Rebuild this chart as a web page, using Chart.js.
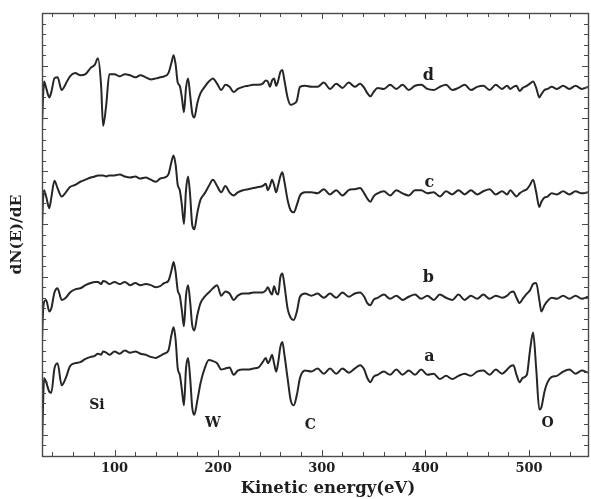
<!DOCTYPE html>
<html>
<head>
<meta charset="utf-8">
<script src="https://cdn.jsdelivr.net/npm/chart.js@4.4.1/dist/chart.umd.min.js"></script>
<style>
  html, body { margin: 0; padding: 0; background: #fff; }
  #wrap { width: 591px; height: 499px; }
</style>
</head>
<body>
<div id="wrap"><canvas id="myChart"></canvas></div>
<script>
// kinetic energy (eV) sample points, shared by the four spectra
const energy = [30, 31, 32, 34, 37, 39, 42, 45, 49, 53, 57, 62, 67, 72, 77, 81, 84, 87, 89, 92, 95,
  100, 105, 110, 115, 120, 125, 130, 135, 140, 144, 148, 152, 155, 157, 159, 161, 163, 165, 167, 169,
  171, 173, 175, 177, 180, 183, 187, 191, 195, 199, 203, 207, 211, 215, 219, 224, 229, 234, 239, 243,
  246, 248, 250, 252, 254, 256, 258, 260, 262, 264, 267, 270, 273, 276, 279, 284, 290,
  296, 302, 308, 314, 320, 326, 332, 337, 341, 344, 347, 350, 354, 360, 366, 372, 378, 384, 390, 396,
  402, 408, 414, 420, 426, 432, 438, 444, 450, 456, 462, 468, 474, 479, 482, 485, 488, 491, 494, 498,
  501, 504, 507, 510, 512, 515, 518, 522, 527, 533, 539, 545, 551, 557];

// dN(E)/dE, arbitrary units (each spectrum sits on its own offset)
const spectrumD = [31.4, 34.0, 35.5, 34.9, 34.0, 34.5, 35.8, 35.9, 34.7, 35.3, 36.0, 36.3, 36.1, 36.2, 36.8, 37.1, 37.7, 35.2, 31.3, 33.3, 36.2,
  36.2, 36.0, 36.2, 36.1, 35.9, 36.1, 35.9, 35.7, 35.8, 35.9, 36.0, 36.3, 37.3, 38.0, 37.1, 35.4, 35.1, 34.0, 32.6, 34.9,
  35.8, 34.2, 32.5, 32.1, 33.5, 34.4, 35.0, 35.5, 35.8, 35.3, 34.7, 35.2, 35.0, 34.5, 34.8, 35.0, 35.1, 35.2, 35.2, 35.3,
  35.6, 35.5, 35.0, 35.6, 35.8, 35.1, 35.6, 36.4, 36.6, 35.6, 34.0, 33.3, 33.4, 33.7, 35.0, 35.1, 35.0,
  35.0, 35.4, 34.8, 35.3, 34.9, 35.4, 35.0, 35.3, 34.9, 34.4, 34.1, 34.5, 34.9, 34.8, 35.2, 34.8, 35.2, 34.7, 35.1, 35.2,
  34.8, 34.7, 35.0, 35.2, 34.7, 34.9, 35.2, 34.7, 35.0, 35.1, 34.7, 35.2, 34.8, 35.1, 34.8, 35.0, 35.1, 34.6, 34.9, 35.1,
  35.3, 35.5, 34.9, 34.0, 34.3, 34.7, 34.8, 35.0, 34.8, 35.1, 34.8, 35.1, 34.8, 35.0];

const spectrumC = [21.6, 24.3, 25.2, 24.6, 23.5, 24.5, 26.1, 25.4, 24.6, 25.0, 25.5, 25.7, 26.0, 26.2, 26.4, 26.5, 26.6, 26.6, 26.6, 26.5, 26.6,
  26.6, 26.7, 26.5, 26.4, 26.5, 26.3, 26.4, 26.2, 26.0, 26.3, 26.4, 26.7, 27.9, 28.5, 27.6, 25.7, 25.2, 23.8, 22.0, 25.2,
  26.5, 24.7, 21.9, 21.5, 23.1, 24.3, 24.9, 25.6, 26.2, 25.6, 25.0, 25.6, 25.0, 24.7, 25.0, 25.2, 25.3, 25.4, 25.5, 25.6,
  25.8, 25.2, 25.6, 26.2, 25.7, 25.0, 25.7, 26.5, 26.9, 26.0, 24.3, 23.3, 23.1, 23.8, 24.7, 25.0, 25.0,
  24.9, 25.3, 24.8, 25.2, 24.7, 25.2, 25.3, 25.4, 24.9, 24.4, 24.1, 24.6, 24.9, 25.1, 24.7, 25.2, 24.9, 24.7, 25.2, 25.2,
  24.9, 25.0, 24.6, 25.1, 24.8, 25.2, 24.8, 25.2, 24.8, 25.1, 25.3, 24.8, 25.1, 24.8, 25.2, 24.9, 24.6, 24.9, 25.1, 25.3,
  25.7, 26.2, 25.0, 23.6, 24.1, 24.5, 24.6, 24.9, 24.8, 25.1, 24.8, 25.1, 24.9, 25.0];

const spectrumB = [11.0, 13.7, 14.6, 14.8, 13.7, 14.0, 15.5, 15.9, 14.8, 15.0, 15.5, 15.8, 15.9, 16.2, 16.4, 16.5, 16.5, 16.3, 16.6, 16.5, 16.3,
  16.5, 16.3, 16.5, 16.2, 16.4, 16.2, 16.3, 16.2, 16.0, 16.1, 16.4, 16.6, 17.6, 18.4, 17.4, 15.7, 15.2, 13.8, 12.3, 15.2,
  16.2, 14.6, 12.4, 11.9, 13.4, 14.5, 15.1, 15.5, 15.9, 16.2, 15.2, 15.6, 15.4, 14.8, 15.2, 15.4, 15.4, 15.5, 15.5, 15.5,
  15.7, 16.0, 15.6, 15.3, 16.1, 15.5, 15.3, 16.9, 17.3, 16.2, 14.0, 13.1, 12.9, 13.7, 15.1, 15.4, 15.2,
  15.4, 15.0, 15.4, 15.0, 15.5, 15.1, 15.4, 15.5, 15.1, 14.5, 14.3, 14.8, 15.0, 15.3, 14.9, 15.2, 14.8, 15.1, 15.3, 14.9,
  15.2, 14.8, 15.3, 15.0, 14.8, 15.3, 14.8, 15.2, 14.9, 15.3, 14.9, 15.2, 15.0, 15.2, 15.5, 15.6, 15.0, 14.5, 14.9, 15.4,
  15.7, 16.3, 16.4, 14.8, 13.7, 14.3, 14.7, 15.0, 14.9, 15.2, 14.9, 15.2, 14.9, 15.1];

const spectrumA = [1.0, 4.8, 7.4, 7.0, 6.1, 6.0, 8.3, 8.8, 6.7, 7.4, 8.5, 8.8, 8.9, 9.2, 9.4, 9.5, 9.7, 9.6, 9.9, 9.8, 9.6,
  9.9, 9.7, 10.0, 9.8, 9.9, 9.7, 9.6, 9.4, 9.3, 9.5, 9.7, 10.0, 11.5, 12.2, 11.0, 8.3, 7.7, 6.3, 4.8, 8.3,
  9.3, 7.4, 4.6, 3.9, 5.3, 6.9, 8.3, 9.1, 9.0, 8.8, 8.2, 8.3, 8.4, 7.7, 8.1, 8.2, 8.2, 8.3, 8.4, 8.9,
  9.3, 8.8, 9.1, 9.6, 8.8, 8.0, 8.9, 10.3, 10.8, 9.6, 7.4, 5.3, 4.8, 5.8, 7.4, 8.1, 8.0,
  8.3, 7.8, 8.3, 7.8, 8.3, 7.9, 8.3, 8.6, 8.2, 7.4, 7.0, 7.5, 7.7, 8.0, 7.7, 8.2, 7.7, 8.1, 7.7, 8.2,
  7.7, 7.8, 7.3, 7.6, 7.3, 7.6, 7.8, 7.6, 8.0, 8.1, 7.7, 8.2, 7.8, 8.2, 8.5, 8.6, 7.7, 7.0, 7.4, 7.7,
  10.0, 11.7, 8.3, 4.4, 4.6, 6.1, 7.0, 7.5, 7.6, 8.0, 8.2, 7.8, 8.1, 7.9];

// element and spectrum labels written inside the plot (data coordinates)
const peakNames = ['Si', 'W', 'C', 'O'];
const peakNameX = [83, 195, 289, 518];
const peakNameY = [4.8, 3.1, 2.9, 3.1];
const curveNames = ['a', 'b', 'c', 'd'];
const curveNameX = [404, 403, 404, 403];
const curveNameY = [9.4, 16.9, 25.9, 36.0];
const xTitle = 'Kinetic energy(eV)';

const serif = '"DejaVu Serif", "Liberation Serif", serif';

function toPoints(values) {
  return energy.map((e, i) => ({ x: e, y: values[i] }));
}

// frame with inward ticks on all four sides + the in-plot letters
const boxAndLabels = {
  id: 'boxAndLabels',
  afterDatasetsDraw(chart) {
    const { ctx, chartArea: area, scales } = chart;
    const x = scales.x;
    const y = scales.y;
    ctx.save();
    ctx.strokeStyle = '#4a4a4a';
    ctx.lineWidth = 1;
    ctx.beginPath();
    x.ticks.forEach((t) => {
      const px = Math.round(x.getPixelForValue(t.value)) + 0.5;
      const len = t.value % 100 === 0 ? 6 : 4;
      ctx.moveTo(px, area.bottom);
      ctx.lineTo(px, area.bottom - len);
      ctx.moveTo(px, area.top);
      ctx.lineTo(px, area.top + len);
    });
    y.ticks.forEach((t) => {
      const py = Math.round(y.getPixelForValue(t.value)) + 0.5;
      const len = t.value % 5 === 2 ? 6 : 4;
      ctx.moveTo(area.left, py);
      ctx.lineTo(area.left + len, py);
      ctx.moveTo(area.right, py);
      ctx.lineTo(area.right - len, py);
    });
    ctx.stroke();
    ctx.lineWidth = 1.4;
    ctx.strokeRect(area.left + 0.5, area.top + 0.5, area.right - area.left, area.bottom - area.top);

    ctx.fillStyle = '#1e1e1e';
    ctx.textAlign = 'center';
    ctx.textBaseline = 'middle';
    ctx.font = 'bold 14px ' + serif;
    peakNames.forEach((name, i) => {
      ctx.fillText(name, x.getPixelForValue(peakNameX[i]), y.getPixelForValue(peakNameY[i]));
    });
    ctx.font = 'bold 16px ' + serif;
    curveNames.forEach((name, i) => {
      ctx.fillText(name, x.getPixelForValue(curveNameX[i]), y.getPixelForValue(curveNameY[i]));
    });
    // axis title sits a little right of the plot centre in the original
    ctx.font = 'bold 16.5px ' + serif;
    ctx.fillText(xTitle, x.getPixelForValue(306), area.bottom + 33);
    ctx.restore();
  }
};

document.addEventListener('DOMContentLoaded', () => {
  const ctx = document.getElementById('myChart').getContext('2d');
  const lineStyle = {
    borderColor: '#262626',
    borderWidth: 2,
    pointRadius: 0,
    cubicInterpolationMode: 'monotone',
    fill: false
  };
  new Chart(ctx, {
    type: 'line',
    data: {
      datasets: [
        { label: 'a', data: toPoints(spectrumA), ...lineStyle },
        { label: 'b', data: toPoints(spectrumB), ...lineStyle },
        { label: 'c', data: toPoints(spectrumC), ...lineStyle },
        { label: 'd', data: toPoints(spectrumD), ...lineStyle }
      ]
    },
    options: {
      responsive: true,
      maintainAspectRatio: false,
      animation: false,
      layout: { padding: { left: 0, right: 3, top: 13, bottom: 0 } },
      plugins: { legend: { display: false }, tooltip: { enabled: false } },
      scales: {
        x: {
          type: 'linear',
          min: 30,
          max: 557,
          grid: { display: false, drawTicks: false },
          border: { display: false },
          ticks: {
            stepSize: 20,
            includeBounds: false,
            autoSkip: false,
            maxRotation: 0,
            padding: 5,
            color: '#1e1e1e',
            font: { family: serif, weight: 'bold', size: 13 },
            callback: (v) => (v % 100 === 0 ? v : '')
          },
          afterFit: (scale) => { scale.height = 43; }
        },
        y: {
          min: 0,
          max: 42,
          grid: { display: false, drawTicks: false },
          border: { display: false },
          ticks: { stepSize: 1, display: false },
          title: {
            display: true,
            text: 'dN(E)/dE',
            color: '#1e1e1e',
            font: { family: serif, weight: 'bold', size: 15.5 },
            padding: { top: 8, bottom: 0 }
          },
          afterFit: (scale) => { scale.width = 42; }
        }
      }
    },
    plugins: [boxAndLabels]
  });
});
</script>
</body>
</html>
